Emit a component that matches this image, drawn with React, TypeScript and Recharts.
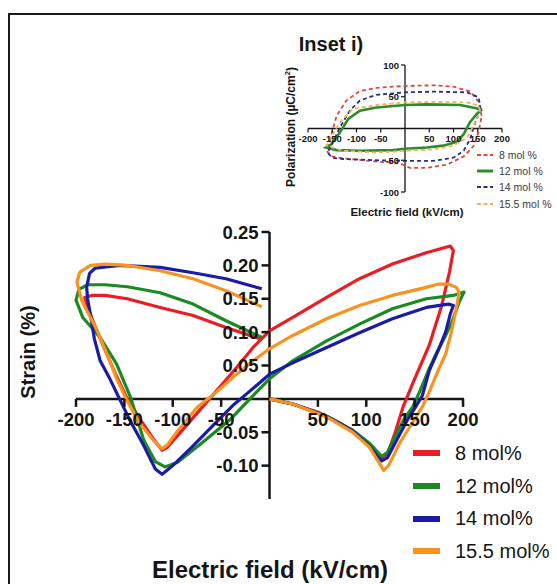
import React from "react";
import { ComposedChart, Line, Scatter, XAxis, YAxis, ReferenceLine, Legend } from "recharts";

const FONT = "'Liberation Sans', Arial, sans-serif";
const INK = "#151515";

// main plot: strain (%) vs electric field (kV/cm), one butterfly loop per composition
const fieldTicks = [-200, -150, -100, -50, 50, 100, 150, 200];
const strainTicks = [0.25, 0.2, 0.15, 0.1, 0.05, -0.05, -0.1];

const strain8 = [
  [0, 0], [25, -0.008], [50, -0.02], [75, -0.038], [95, -0.058], [110, -0.078], [116, -0.088],
  [122, -0.082], [130, -0.05], [138, -0.012], [150, 0.03], [165, 0.08], [178, 0.14], [186, 0.19],
  [190, 0.222], [187, 0.229], [162, 0.219], [127, 0.202], [93, 0.18], [59, 0.152], [24, 0.122],
  [0, 0.102], [-17, 0.077], [-34, 0.047], [-50, 0.02], [-62, 0.0], [-80, -0.03], [-95, -0.055],
  [-106, -0.073], [-111, -0.077], [-120, -0.06], [-135, -0.028], [-148, 0.003], [-160, 0.04],
  [-172, 0.08], [-182, 0.115], [-189, 0.142], [-191, 0.152], [-184, 0.155], [-170, 0.155],
  [-147, 0.15], [-113, 0.137], [-79, 0.125], [-45, 0.107], [-10, 0.09],
];

const strain12 = [
  [0, 0], [25, -0.008], [59, -0.026], [86, -0.047], [103, -0.066], [112, -0.08], [116, -0.086],
  [122, -0.08], [132, -0.05], [140, -0.028], [148, -0.012], [155, 0.01], [165, 0.045], [172, 0.067],
  [182, 0.095], [189, 0.117], [196, 0.145], [201, 0.16], [190, 0.155], [162, 0.15], [127, 0.135],
  [93, 0.112], [59, 0.087], [24, 0.057], [0, 0.03], [-17, 0.005], [-40, -0.03], [-70, -0.066],
  [-95, -0.095], [-108, -0.102], [-118, -0.094], [-130, -0.062], [-143, 0.0], [-158, 0.052],
  [-175, 0.092], [-193, 0.122], [-200, 0.148], [-197, 0.164], [-188, 0.171], [-170, 0.171],
  [-147, 0.168], [-113, 0.159], [-79, 0.142], [-45, 0.117], [-8, 0.092],
];

const strain14 = [
  [0, 0], [25, -0.008], [59, -0.026], [86, -0.048], [103, -0.07], [112, -0.087], [116, -0.093],
  [122, -0.088], [132, -0.06], [143, -0.03], [151, -0.012], [158, 0.005], [165, 0.042], [175, 0.075],
  [182, 0.1], [187, 0.128], [190, 0.14], [185, 0.142], [162, 0.137], [127, 0.12], [93, 0.099],
  [59, 0.077], [24, 0.054], [0, 0.037], [-20, 0.012], [-38, -0.01], [-55, -0.035], [-80, -0.072],
  [-100, -0.1], [-111, -0.113], [-118, -0.105], [-130, -0.07], [-145, -0.03], [-155, 0.0],
  [-165, 0.03], [-175, 0.057], [-181, 0.09], [-184, 0.117], [-188, 0.15], [-189, 0.167],
  [-186, 0.188], [-180, 0.196], [-155, 0.2], [-113, 0.197], [-79, 0.189], [-45, 0.18], [-8, 0.165],
];

const strain155 = [
  [0, 0], [25, -0.008], [59, -0.027], [86, -0.05], [103, -0.072], [113, -0.095], [118, -0.107],
  [123, -0.1], [135, -0.065], [148, -0.035], [158, -0.012], [165, 0.01], [175, 0.045], [182, 0.067],
  [188, 0.1], [193, 0.135], [196, 0.16], [193, 0.167], [185, 0.172], [175, 0.172], [162, 0.167],
  [127, 0.155], [93, 0.14], [59, 0.12], [24, 0.095], [0, 0.075], [-17, 0.057], [-34, 0.037],
  [-55, 0.01], [-75, -0.013], [-95, -0.048], [-105, -0.068], [-111, -0.075], [-120, -0.062],
  [-135, -0.035], [-147, -0.003], [-158, 0.03], [-165, 0.057], [-178, 0.102], [-194, 0.147],
  [-199, 0.175], [-196, 0.19], [-185, 0.2], [-170, 0.202], [-147, 0.2], [-113, 0.192],
  [-79, 0.18], [-45, 0.162], [-8, 0.138],
];

// inset i): polarization (µC/cm²) vs electric field
const insetFieldTicks = [-200, -150, -100, -50, 50, 100, 150, 200];
const insetPolTicks = [100, 50, -50, -100];

const pol8 = [
  [158, 20], [152, 42], [135, 58], [100, 66], [59, 68], [0, 67], [-59, 64], [-93, 59], [-121, 44],
  [-141, 20], [-152, -10], [-160, -37], [-150, -44], [-128, -47], [-59, -52], [-10, -55], [10, -62],
  [45, -62], [86, -57], [121, -44], [141, -28], [152, -5], [158, 20],
];
const pol12 = [
  [159, 30], [114, 37], [45, 38], [0, 37], [-59, 33], [-93, 28], [-117, 15], [-134, -6], [-152, -25],
  [-163, -30], [-141, -34], [-93, -35], [-24, -34], [0, -32], [45, -30], [79, -27], [107, -21],
  [121, -9], [134, 10], [148, 23], [159, 30],
];
const pol14 = [
  [156, 30], [152, 49], [128, 57], [59, 58], [0, 57], [-59, 53], [-93, 44], [-114, 28], [-134, 2],
  [-152, -27], [-160, -38], [-150, -46], [-128, -48], [-59, -50], [0, -51], [59, -51], [100, -46],
  [121, -35], [134, -17], [145, 10], [156, 30],
];
const pol155 = [
  [155, 28], [152, 36], [128, 41], [59, 42], [0, 41], [-59, 37], [-107, 31], [-134, 10], [-155, -17],
  [-162, -27], [-128, -35], [-59, -38], [0, -35], [59, -33], [100, -27], [128, -14], [145, 10],
  [155, 28],
];

const mainSeries = [
  { name: "8 mol%", color: "#ec1c24", pts: strain8 },
  { name: "12 mol%", color: "#1b8a23", pts: strain12 },
  { name: "14 mol%", color: "#1a1ca6", pts: strain14 },
  { name: "15.5 mol%", color: "#f7931e", pts: strain155 },
];

const insetSeries = [
  { name: "8 mol %", color: "#e2473f", dash: "4 3", pts: pol8 },
  { name: "12 mol %", color: "#2a8c2a", dash: undefined, pts: pol12 },
  { name: "14 mol %", color: "#2b2f8f", dash: "4 3", pts: pol14 },
  { name: "15.5 mol %", color: "#f2b35a", dash: "4 3", pts: pol155 },
];

const toXY = (pts: number[][]) => pts.map(([x, y]) => ({ x, y }));

// tick marks + labels drawn at data positions through the chart scales
const xTickShape = (len: number, gap: number, size: number) => (p: any) => (
  <g>
    <line x1={p.cx} x2={p.cx} y1={p.cy} y2={p.cy + len} stroke={INK} strokeWidth={len > 5 ? 2.5 : 1.2} />
    <text x={p.cx} y={p.cy + gap} textAnchor="middle" dominantBaseline="central"
          fontFamily={FONT} fontWeight="bold" fontSize={size} fill={INK}>{p.payload.label}</text>
  </g>
);
const yTickShape = (len: number, gap: number, size: number) => (p: any) => (
  <g>
    <line x1={p.cx - len} x2={p.cx} y1={p.cy} y2={p.cy} stroke={INK} strokeWidth={len > 5 ? 2.5 : 1.2} />
    <text x={p.cx - gap} y={p.cy} textAnchor="end" dominantBaseline="central"
          fontFamily={FONT} fontWeight="bold" fontSize={size} fill={INK}>{p.payload.label}</text>
  </g>
);

// legends keep the series order (recharts would sort them by name)
const ordered = (payload: any[], series: { name: string }[]) =>
  series.map(s => (payload || []).find((e: any) => e.value === s.name)).filter(Boolean);

const MainLegend = (props: any) => (
  <div style={{ fontFamily: FONT, fontSize: 20, color: INK }}>
    {ordered(props.payload, mainSeries).map((e: any) => (
      <div key={e.value} style={{ display: "flex", alignItems: "center", height: 32.7 }}>
        <div style={{ width: 27, height: 6, background: e.color, marginRight: 15 }} />
        <span>{e.value}</span>
      </div>
    ))}
  </div>
);

const InsetLegend = (props: any) => (
  <div style={{ fontFamily: FONT, fontSize: 10.5, color: "#3a3a3a" }}>
    {ordered(props.payload, insetSeries).map((e: any) => {
      const s = insetSeries.find(d => d.name === e.value);
      return (
        <div key={e.value} style={{ display: "flex", alignItems: "center", height: 16.2 }}>
          <svg width={16} height={6} style={{ marginRight: 6 }}>
            <line x1={0} x2={16} y1={3} y2={3} stroke={e.color}
                  strokeWidth={s && s.dash ? 2 : 3} strokeDasharray={s && s.dash ? "4 2.5" : undefined} />
          </svg>
          <span>{e.value}</span>
        </div>
      );
    })}
  </div>
);

const label = (style: React.CSSProperties, text: React.ReactNode, rotate = false) => (
  <div style={{
    position: "absolute", fontFamily: FONT, fontWeight: "bold", color: INK, whiteSpace: "nowrap",
    transform: `translate(-50%, -50%)${rotate ? " rotate(-90deg)" : ""}`, ...style,
  }}>{text}</div>
);

export default function App() {
  const full: React.CSSProperties = { position: "absolute", left: 0, top: 0 };
  return (
    <div style={{ position: "fixed", left: 0, top: 0, width: 557, height: 584, overflow: "hidden", background: "#fff" }}>
      <div style={{ position: "absolute", left: 8, top: 13, width: 600, height: 620, border: "2.5px solid #1a1a1a" }} />

      {/* main strain loops */}
      <div style={full}>
        <ComposedChart width={557} height={584} margin={{ top: 232, left: 76, right: 93, bottom: 85 }}>
          <XAxis type="number" dataKey="x" domain={[-200, 200]} hide />
          <YAxis type="number" dataKey="y" domain={[-0.15, 0.25]} hide />
          <ReferenceLine y={0} stroke={INK} strokeWidth={2.5} />
          <ReferenceLine x={0} stroke={INK} strokeWidth={2.5} />
          <Scatter data={fieldTicks.map(v => ({ x: v, y: 0, label: String(v) }))} legendType="none"
                   shape={xTickShape(8, 21, 18.5)} isAnimationActive={false} />
          <Scatter data={strainTicks.map(v => ({ x: 0, y: v, label: v.toFixed(2) }))} legendType="none"
                   shape={yTickShape(8, 11, 18.5)} isAnimationActive={false} />
          {mainSeries.map(s => (
            <Line key={s.name} data={toXY(s.pts)} dataKey="y" name={s.name} stroke={s.color}
                  strokeWidth={3.2} strokeLinejoin="round" dot={false} activeDot={false} isAnimationActive={false} />
          ))}
          <Legend layout="vertical" align="center" verticalAlign="middle" content={MainLegend}
                  wrapperStyle={{ left: 413, top: 437, width: 150 }} />
        </ComposedChart>
      </div>

      {/* inset i) polarization loops */}
      <div style={full}>
        <ComposedChart width={557} height={584} margin={{ top: 65, left: 308, right: 55, bottom: 392 }}>
          <XAxis type="number" dataKey="x" domain={[-200, 200]} hide />
          <YAxis type="number" dataKey="y" domain={[-100, 100]} hide />
          <ReferenceLine y={0} stroke={INK} strokeWidth={1.3} />
          <ReferenceLine x={0} stroke={INK} strokeWidth={1.3} />
          <Scatter data={insetFieldTicks.map(v => ({ x: v, y: 0, label: String(v) }))} legendType="none"
                   shape={xTickShape(4, 10, 9.5)} isAnimationActive={false} />
          <Scatter data={insetPolTicks.map(v => ({ x: 0, y: v, label: String(v) }))} legendType="none"
                   shape={yTickShape(4, 6, 9.5)} isAnimationActive={false} />
          {insetSeries.map(s => (
            <Line key={s.name} data={toXY(s.pts)} dataKey="y" name={s.name} stroke={s.color}
                  strokeWidth={s.dash ? 1.8 : 2.6} strokeDasharray={s.dash} dot={false} activeDot={false}
                  isAnimationActive={false} />
          ))}
          <Legend layout="vertical" align="center" verticalAlign="middle" content={InsetLegend}
                  wrapperStyle={{ left: 477, top: 147, width: 90 }} />
        </ComposedChart>
      </div>

      {label({ left: 331, top: 44, fontSize: 20 }, "Inset i)")}
      {label({ left: 290, top: 127, fontSize: 12 }, <span>Polarization (µC/cm<sup style={{ fontSize: 7.5 }}>2</sup>)</span>, true)}
      {label({ left: 407, top: 212, fontSize: 11.5 }, "Electric field (kV/cm)")}
      {label({ left: 28, top: 352, fontSize: 20 }, "Strain (%)", true)}
      {label({ left: 270, top: 570, fontSize: 24 }, "Electric field (kV/cm)")}
    </div>
  );
}
